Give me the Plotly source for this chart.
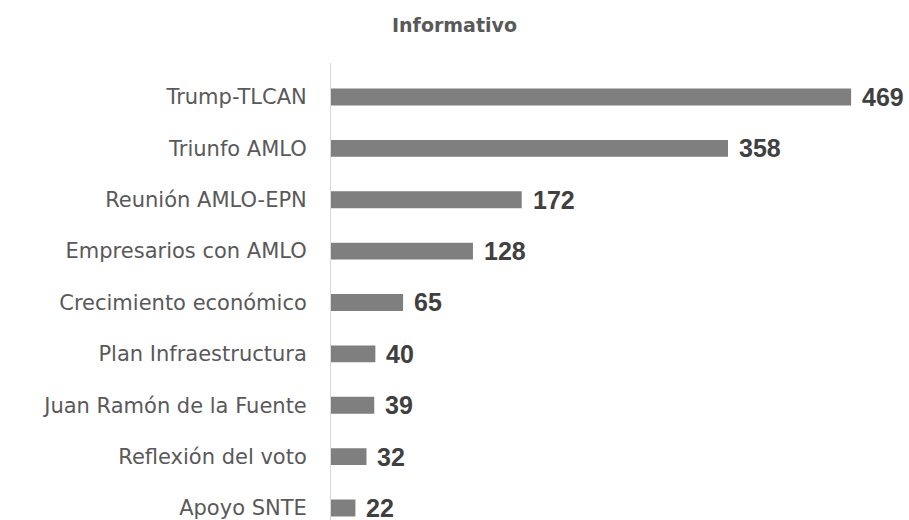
import plotly.graph_objects as go

categories = ["Trump-TLCAN", "Triunfo AMLO", "Reunión AMLO-EPN", "Empresarios con AMLO",
              "Crecimiento económico", "Plan Infraestructura", "Juan Ramón de la Fuente",
              "Reflexión del voto", "Apoyo SNTE"]
values = [469, 358, 172, 128, 65, 40, 39, 32, 22]

cats = categories[::-1]
vals = values[::-1]

fig = go.Figure()
fig.add_trace(go.Bar(
    x=vals, y=cats, orientation="h",
    marker=dict(color="#7f7f7f", line=dict(width=0)),
    width=0.33,
    hoverinfo="skip",
))

for c, v in zip(cats, vals):
    fig.add_annotation(x=v, y=c, text=f"<b>{v}</b>", showarrow=False,
                       xanchor="left", yanchor="middle", xshift=9, yshift=0,
                       font=dict(family="Liberation Sans", size=25, color="#404040"))

fig.update_layout(
    width=909, height=520,
    margin=dict(l=331, r=0, t=63, b=0),
    paper_bgcolor="white", plot_bgcolor="white",
    showlegend=False,
    title=dict(text="<b>Informativo</b>", x=0.5, xanchor="center", y=0.952, yanchor="middle",
               font=dict(family="DejaVu Sans", size=19, color="#595959")),
    xaxis=dict(range=[0, 521.2], visible=False, fixedrange=True),
    yaxis=dict(range=[-0.234, 8.662], showline=True, linecolor="#d9d9d9", linewidth=1,
               showgrid=False, zeroline=False, ticks="", ticklabelstandoff=19,
               tickfont=dict(family="DejaVu Sans", size=21, color="#595959")),
)

fig.write_html("out.html")
